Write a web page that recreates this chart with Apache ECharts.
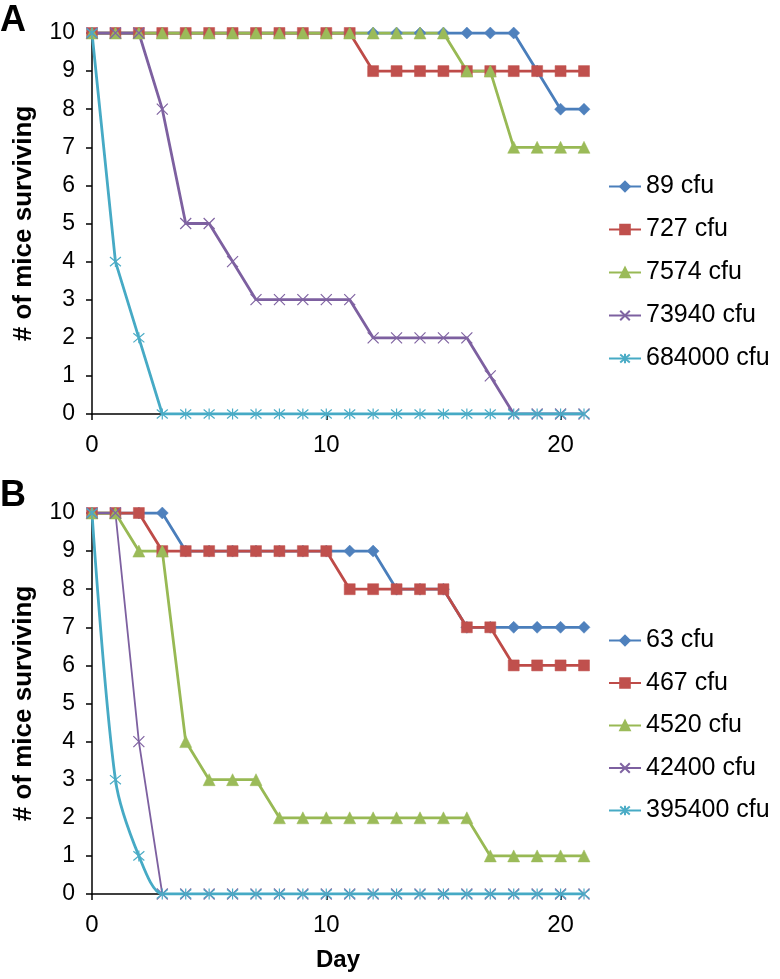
<!DOCTYPE html>
<html>
<head>
<meta charset="utf-8">
<script src="https://cdn.jsdelivr.net/npm/echarts@6/dist/echarts.min.js"></script>
<style>
  html, body { margin: 0; padding: 0; background: #fff; }
  #chart { width: 780px; height: 979px; }
</style>
</head>
<body>
<div id="chart"></div>
<script>
// days 0..21
const days = [0,1,2,3,4,5,6,7,8,9,10,11,12,13,14,15,16,17,18,19,20,21];

// panel A
const namesA = ['89 cfu', '727 cfu', '7574 cfu', '73940 cfu', '684000 cfu'];
const a89     = [10,10,10,10,10,10,10,10,10,10,10,10,10,10,10,10,10,10,10,9,8,8];
const a727    = [10,10,10,10,10,10,10,10,10,10,10,10,9,9,9,9,9,9,9,9,9,9];
const a7574   = [10,10,10,10,10,10,10,10,10,10,10,10,10,10,10,10,9,9,7,7,7,7];
const a73940  = [10,10,10,8,5,5,4,3,3,3,3,3,2,2,2,2,2,1,0,0,0,0];
const a684000 = [10,4,2,0,0,0,0,0,0,0,0,0,0,0,0,0,0,0,0,0,0,0];

// panel B
const namesB = ['63 cfu', '467 cfu', '4520 cfu', '42400 cfu', '395400 cfu'];
const b63     = [10,10,10,10,9,9,9,9,9,9,9,9,9,8,8,8,7,7,7,7,7,7];
const b467    = [10,10,10,9,9,9,9,9,9,9,9,8,8,8,8,8,7,7,6,6,6,6];
const b4520   = [10,10,9,9,4,3,3,3,2,2,2,2,2,2,2,2,2,1,1,1,1,1];
const b42400  = [10,10,4,0,0,0,0,0,0,0,0,0,0,0,0,0,0,0,0,0,0,0];
const b395400 = [10,3,1,0,0,0,0,0,0,0,0,0,0,0,0,0,0,0,0,0,0,0];

const xTicks = [0, 10, 20];

const lineColors = ['#4a7ebb', '#be4b48', '#98b954', '#7d60a0', '#46aac5'];
const fillColors = ['#4f81bd', '#c0504d', '#9bbb59', '#8064a2', '#4bacc6'];
const symbols = [
  'diamond',
  'rect',
  'triangle',
  'path://M0,0L10,10M10,0L0,10',
  'path://M0,0L10,10M10,0L0,10M5,-1L5,11'
];
const symbolSizes = [12, 11, 12, 11, 11];
const FONT = 'Liberation Sans, Arial';

function pairs(vals) {
  return vals.map((v, i) => [days[i], v]);
}

function mkSeries(name, vals, k, idx, opts) {
  opts = opts || {};
  const stroked = k >= 3;
  return {
    name: name,
    type: 'line',
    xAxisIndex: idx,
    yAxisIndex: idx,
    data: pairs(vals),
    symbol: symbols[k],
    symbolSize: symbolSizes[k],
    smooth: opts.smooth || false,
    lineStyle: { color: lineColors[k], width: opts.width || 2.8 },
    itemStyle: stroked
      ? { color: 'rgba(0,0,0,0)', borderColor: fillColors[k], borderWidth: 1.2 }
      : { color: fillColors[k], borderColor: fillColors[k], borderWidth: 0.5 },
    emphasis: { disabled: true },
    animation: false
  };
}

function xAx(idx, withName) {
  const ax = {
    type: 'value',
    gridIndex: idx,
    min: 0,
    max: 21,
    interval: 10,
    splitLine: { show: false },
    axisLine: { onZero: false, lineStyle: { color: '#000', width: 1.5 } },
    axisTick: { show: true, length: 6, inside: false, customValues: xTicks, lineStyle: { color: '#000', width: 1.5 } },
    axisLabel: { customValues: xTicks, color: '#000', fontSize: 24, margin: 19, fontFamily: FONT }
  };
  if (withName) {
    ax.name = 'Day';
    ax.nameLocation = 'middle';
    ax.nameGap = 54;
    ax.nameTextStyle = { fontSize: 24, fontWeight: 'bold', color: '#000', fontFamily: FONT };
  }
  return ax;
}

function yAx(idx) {
  return {
    type: 'value',
    gridIndex: idx,
    min: 0,
    max: 10,
    interval: 1,
    name: '# of mice surviving',
    nameLocation: 'middle',
    nameGap: 55,
    nameTextStyle: { fontSize: 26, fontWeight: 'bold', color: '#000', fontFamily: FONT },
    splitLine: { show: false },
    axisLine: { show: true, lineStyle: { color: '#000', width: 1.5 } },
    axisTick: { show: true, length: 6, lineStyle: { color: '#000', width: 1.5 } },
    axisLabel: { color: '#000', fontSize: 23, margin: 17, fontFamily: FONT }
  };
}

const legendText = { fontSize: 25, color: '#000', fontFamily: FONT };

const chart = echarts.init(document.getElementById('chart'), null, { renderer: 'canvas' });

const option = {
  backgroundColor: '#fff',
  animation: false,
  grid: [
    { left: 92, top: 33, right: 196, height: 381 },
    { left: 92, top: 513, right: 196, height: 381 }
  ],
  xAxis: [xAx(0, false), xAx(1, true)],
  yAxis: [yAx(0), yAx(1)],
  legend: [
    {
      data: namesA, orient: 'vertical', left: 603, top: 169,
      itemWidth: 32, itemHeight: 12, itemGap: 18,
      textStyle: legendText, selectedMode: false
    },
    {
      data: namesB, orient: 'vertical', left: 603, top: 623,
      itemWidth: 32, itemHeight: 12, itemGap: 17.5,
      textStyle: legendText, selectedMode: false
    }
  ],
  graphic: [
    { type: 'text', left: 0, top: 3, style: { text: 'A', fontSize: 36, fontWeight: 'bold', fill: '#000', fontFamily: FONT } },
    { type: 'text', left: 0, top: 478, style: { text: 'B', fontSize: 36, fontWeight: 'bold', fill: '#000', fontFamily: FONT } }
  ],
  series: [
    mkSeries(namesA[0], a89, 0, 0),
    mkSeries(namesA[1], a727, 1, 0),
    mkSeries(namesA[2], a7574, 2, 0),
    mkSeries(namesA[3], a73940, 3, 0),
    mkSeries(namesA[4], a684000, 4, 0),
    mkSeries(namesB[0], b63, 0, 1),
    mkSeries(namesB[1], b467, 1, 1),
    mkSeries(namesB[2], b4520, 2, 1),
    mkSeries(namesB[3], b42400, 3, 1, { width: 1.8 }),
    mkSeries(namesB[4], b395400, 4, 1, { smooth: 0.3 })
  ]
};

chart.setOption(option);
</script>
</body>
</html>
